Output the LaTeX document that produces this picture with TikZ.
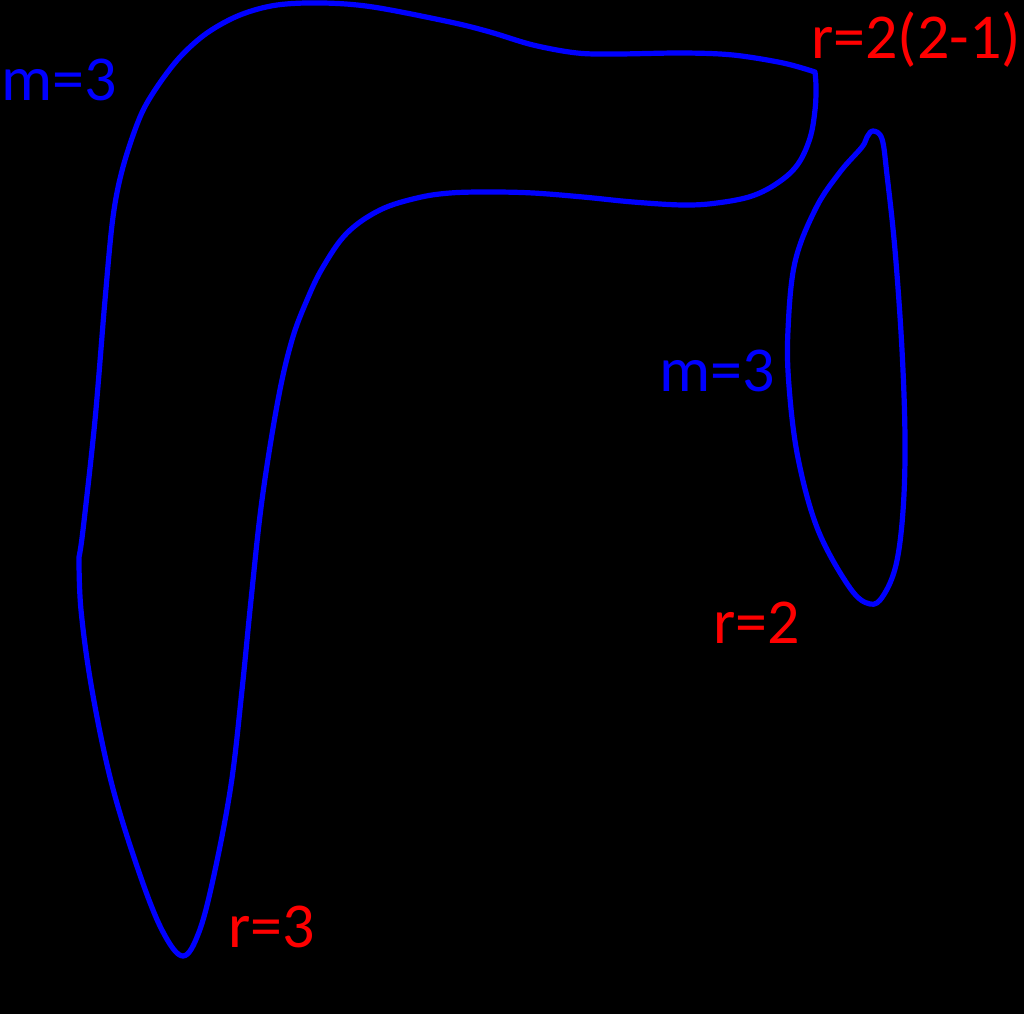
\documentclass[tikz,border=0pt]{standalone}
\usepackage{fontspec}
\setmainfont{Carlito}
\begin{document}
\begin{tikzpicture}[x=1pt,y=-1pt,
  curve/.style={draw={rgb,255:red,0;green,0;blue,255}, line width=5.2pt, line join=round, line cap=round},
  bluelbl/.style={text={rgb,255:red,0;green,0;blue,255}, font=\fontsize{64}{66}\selectfont, inner sep=0pt, anchor=base west},
  redlbl/.style={text={rgb,255:red,255;green,0;blue,0}, font=\fontsize{64}{66}\selectfont, inner sep=0pt, anchor=base west}]
\fill[black] (0,0) rectangle (1024,1014);
\useasboundingbox (0,0) rectangle (1024,1014);
% big region
\draw[curve] plot[smooth, tension=0.55] coordinates {(815,72) (783,63) (733,55) (683,53) (617,54) (577,53) (533,45) (490,32) (450,22) (373,7) (323,3) (277,5) (240,15) (207,33) (180,57) (157,87) (140,117) (123,167) (113,217) (105,300) (95,420) (83,530) (79,557)}
  -- plot[smooth, tension=0.6] coordinates {(79,557) (81,610) (92,690) (112,785) (140,875) (163,932) (183,956) (199,932) (214,875) (231,785) (242,690) (251,600) (262,500) (278,400) (292,340) (307,300) (323,267) (347,233) (380,210) (417,198) (450,193) (490,192) (533,193) (583,197) (633,202) (683,205) (717,203) (752,196) (779,182) (798,164) (810,138) (815,110) (816,87) (815,72)};
% small region
\draw[curve] plot[smooth cycle, tension=0.6] coordinates {(873,131) (882,139) (887,175) (895,250) (902,350) (905,440) (903,511) (896,565) (883,596) (870,604) (850,588) (818,530) (798,458) (789,386) (788,330) (795,262) (816,208) (840,172) (862,147) (867,137)};
\node[bluelbl] (m1) at (1,100) {m=3};
\node[bluelbl] (m2) at (659,391) {m=3};
\node[redlbl] (r1) at (811,59) {r=2(2-1)};
\node[redlbl] (r2) at (713,643) {r=2};
\node[redlbl] (r3) at (228,947) {r=3};
\end{tikzpicture}
\end{document}
